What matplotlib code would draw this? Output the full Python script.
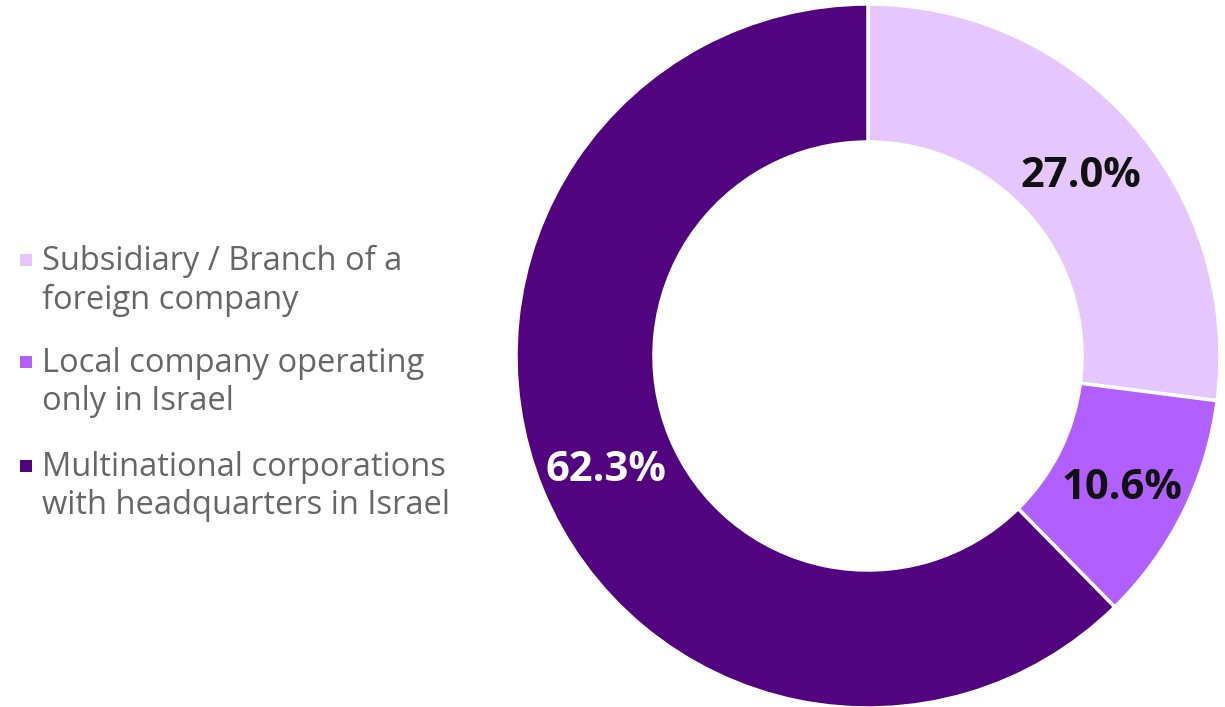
import numpy as np
import matplotlib.pyplot as plt
from matplotlib.patches import Rectangle

# Company type shares (%)
categories = [
    "Subsidiary / Branch of a\nforeign company",
    "Local company operating\nonly in Israel",
    "Multinational corporations\nwith headquarters in Israel",
]
shares = [27.0, 10.6, 62.3]
colors = ["#E5C6FF", "#B25FFF", "#52037F"]
label_colors = ["#111111", "#111111", "#FFFFFF"]

W, H = 1225, 707
fig = plt.figure(figsize=(W / 100, H / 100), dpi=100)

# donut centred at (868, 356) px with outer radius 352 px
cx, cy, r = 868, 356, 352
ax = fig.add_axes([(cx - r) / W, (H - cy - r) / H, 2 * r / W, 2 * r / H])
ring = 0.392
ax.pie(
    shares, colors=colors, startangle=90, counterclock=False,
    radius=1.0, wedgeprops=dict(width=ring, edgecolor="white", linewidth=2.5),
)
ax.set_xlim(-1, 1)
ax.set_ylim(-1, 1)
ax.set_aspect("equal")
ax.axis("off")

# value labels sit at the middle of the ring (nudged down to centre the digits)
total = sum(shares)
start = 90.0
mid_r = 1 - ring / 2
for val, col in zip(shares, label_colors):
    sweep = 360 * val / total
    ang = np.deg2rad(start - sweep / 2)
    ax.text(mid_r * np.cos(ang), mid_r * np.sin(ang) - 0.02, f"{val:.1f}%",
            ha="center", va="center", fontsize=30, fontweight="bold",
            color=col, family="Open Sans")
    start -= sweep

# legend on the left: square marker beside the first line of each entry
marker_y = [260, 362, 466]
for name, col, y in zip(categories, colors, marker_y):
    fig.add_artist(Rectangle((20 / W, (H - y - 6) / H), 12 / W, 12 / H,
                             transform=fig.transFigure, color=col, lw=0))
    fig.text(42 / W, (H - y + 15) / H, name, ha="left", va="top",
             fontsize=23.5, color="#666666", family="Open Sans", linespacing=1.2)

fig.savefig("out.png", dpi=100)
